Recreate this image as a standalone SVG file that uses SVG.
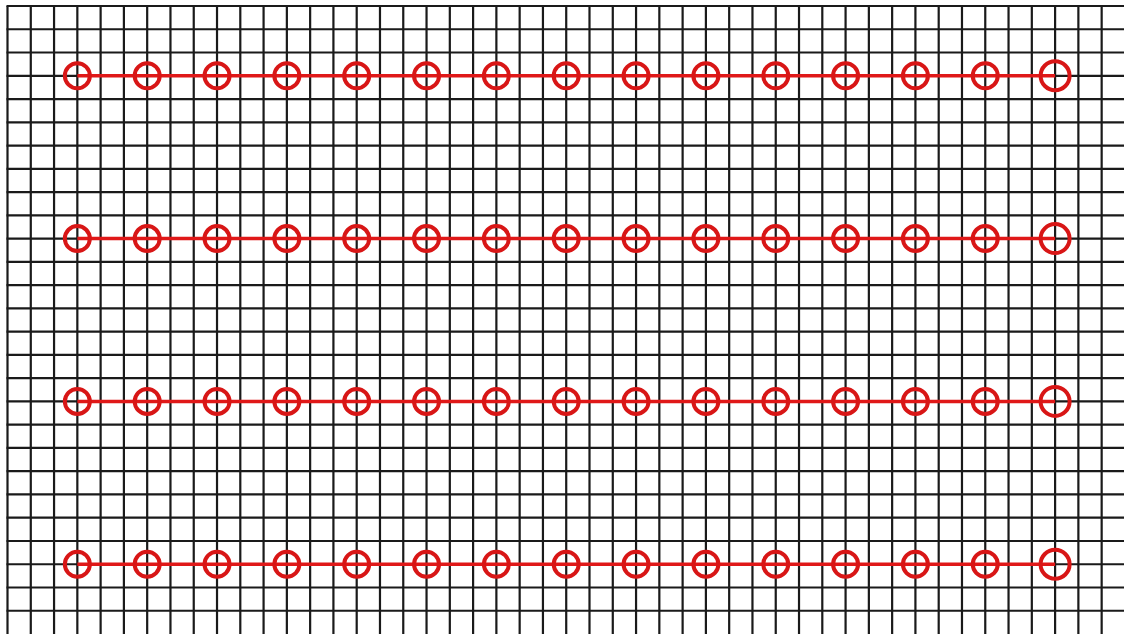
<svg xmlns="http://www.w3.org/2000/svg" width="1124" height="634" viewBox="0 0 1124 634">
<style>
.g{stroke:#1a1a1a;stroke-width:2.2;fill:none}
.c{stroke:#e01818;stroke-width:3.5;fill:none}
.n{stroke:#d81616;stroke-width:4;fill:none}
</style>
<rect width="1124" height="634" fill="#ffffff"/>
<g id="grid" class="g">
<path d="M7.5 6V634M30.78 6V634M54.06 6V634M77.34 6V634M100.62 6V634M123.9 6V634M147.18 6V634M170.46 6V634M193.74 6V634M217.02 6V634M240.3 6V634M263.58 6V634M286.86 6V634M310.14 6V634M333.42 6V634M356.7 6V634M379.98 6V634M403.26 6V634M426.54 6V634M449.82 6V634M473.1 6V634M496.38 6V634M519.66 6V634M542.94 6V634M566.22 6V634M589.5 6V634M612.78 6V634M636.06 6V634M659.34 6V634M682.62 6V634M705.9 6V634M729.18 6V634M752.46 6V634M775.74 6V634M799.02 6V634M822.3 6V634M845.58 6V634M868.86 6V634M892.14 6V634M915.42 6V634M938.7 6V634M961.98 6V634M985.26 6V634M1008.54 6V634M1031.82 6V634M1055.1 6V634M1078.38 6V634M1101.66 6V634"/>
<path d="M6.5 6H1124M6.5 29.26H1124M6.5 52.52H1124M6.5 75.78H1124M6.5 99.04H1124M6.5 122.3H1124M6.5 145.56H1124M6.5 168.82H1124M6.5 192.08H1124M6.5 215.34H1124M6.5 238.6H1124M6.5 261.86H1124M6.5 285.12H1124M6.5 308.38H1124M6.5 331.64H1124M6.5 354.9H1124M6.5 378.16H1124M6.5 401.42H1124M6.5 424.68H1124M6.5 447.94H1124M6.5 471.2H1124M6.5 494.46H1124M6.5 517.72H1124M6.5 540.98H1124M6.5 564.24H1124M6.5 587.5H1124M6.5 610.76H1124"/>
</g>
<g id="connectors" class="c">
<path d="M77.34 75.78H1055.1"/>
<path d="M77.34 238.6H1055.1"/>
<path d="M77.34 401.42H1055.1"/>
<path d="M77.34 564.24H1055.1"/>
</g>
<g id="row1" class="n">
<g id="n1-1"><circle cx="77.34" cy="75.78" r="12.5"/></g>
<g id="n1-2"><circle cx="147.18" cy="75.78" r="12.5"/></g>
<g id="n1-3"><circle cx="217.02" cy="75.78" r="12.5"/></g>
<g id="n1-4"><circle cx="286.86" cy="75.78" r="12.5"/></g>
<g id="n1-5"><circle cx="356.7" cy="75.78" r="12.5"/></g>
<g id="n1-6"><circle cx="426.54" cy="75.78" r="12.5"/></g>
<g id="n1-7"><circle cx="496.38" cy="75.78" r="12.5"/></g>
<g id="n1-8"><circle cx="566.22" cy="75.78" r="12.5"/></g>
<g id="n1-9"><circle cx="636.06" cy="75.78" r="12.5"/></g>
<g id="n1-10"><circle cx="705.9" cy="75.78" r="12.5"/></g>
<g id="n1-11"><circle cx="775.74" cy="75.78" r="12.5"/></g>
<g id="n1-12"><circle cx="845.58" cy="75.78" r="12.5"/></g>
<g id="n1-13"><circle cx="915.42" cy="75.78" r="12.5"/></g>
<g id="n1-14"><circle cx="985.26" cy="75.78" r="12.5"/></g>
<g id="n1-15"><circle cx="1055.1" cy="75.78" r="14.5"/></g>
</g>
<g id="row2" class="n">
<g id="n2-1"><circle cx="77.34" cy="238.6" r="12.5"/></g>
<g id="n2-2"><circle cx="147.18" cy="238.6" r="12.5"/></g>
<g id="n2-3"><circle cx="217.02" cy="238.6" r="12.5"/></g>
<g id="n2-4"><circle cx="286.86" cy="238.6" r="12.5"/></g>
<g id="n2-5"><circle cx="356.7" cy="238.6" r="12.5"/></g>
<g id="n2-6"><circle cx="426.54" cy="238.6" r="12.5"/></g>
<g id="n2-7"><circle cx="496.38" cy="238.6" r="12.5"/></g>
<g id="n2-8"><circle cx="566.22" cy="238.6" r="12.5"/></g>
<g id="n2-9"><circle cx="636.06" cy="238.6" r="12.5"/></g>
<g id="n2-10"><circle cx="705.9" cy="238.6" r="12.5"/></g>
<g id="n2-11"><circle cx="775.74" cy="238.6" r="12.5"/></g>
<g id="n2-12"><circle cx="845.58" cy="238.6" r="12.5"/></g>
<g id="n2-13"><circle cx="915.42" cy="238.6" r="12.5"/></g>
<g id="n2-14"><circle cx="985.26" cy="238.6" r="12.5"/></g>
<g id="n2-15"><circle cx="1055.1" cy="238.6" r="14.5"/></g>
</g>
<g id="row3" class="n">
<g id="n3-1"><circle cx="77.34" cy="401.42" r="12.5"/></g>
<g id="n3-2"><circle cx="147.18" cy="401.42" r="12.5"/></g>
<g id="n3-3"><circle cx="217.02" cy="401.42" r="12.5"/></g>
<g id="n3-4"><circle cx="286.86" cy="401.42" r="12.5"/></g>
<g id="n3-5"><circle cx="356.7" cy="401.42" r="12.5"/></g>
<g id="n3-6"><circle cx="426.54" cy="401.42" r="12.5"/></g>
<g id="n3-7"><circle cx="496.38" cy="401.42" r="12.5"/></g>
<g id="n3-8"><circle cx="566.22" cy="401.42" r="12.5"/></g>
<g id="n3-9"><circle cx="636.06" cy="401.42" r="12.5"/></g>
<g id="n3-10"><circle cx="705.9" cy="401.42" r="12.5"/></g>
<g id="n3-11"><circle cx="775.74" cy="401.42" r="12.5"/></g>
<g id="n3-12"><circle cx="845.58" cy="401.42" r="12.5"/></g>
<g id="n3-13"><circle cx="915.42" cy="401.42" r="12.5"/></g>
<g id="n3-14"><circle cx="985.26" cy="401.42" r="12.5"/></g>
<g id="n3-15"><circle cx="1055.1" cy="401.42" r="14.5"/></g>
</g>
<g id="row4" class="n">
<g id="n4-1"><circle cx="77.34" cy="564.24" r="12.5"/></g>
<g id="n4-2"><circle cx="147.18" cy="564.24" r="12.5"/></g>
<g id="n4-3"><circle cx="217.02" cy="564.24" r="12.5"/></g>
<g id="n4-4"><circle cx="286.86" cy="564.24" r="12.5"/></g>
<g id="n4-5"><circle cx="356.7" cy="564.24" r="12.5"/></g>
<g id="n4-6"><circle cx="426.54" cy="564.24" r="12.5"/></g>
<g id="n4-7"><circle cx="496.38" cy="564.24" r="12.5"/></g>
<g id="n4-8"><circle cx="566.22" cy="564.24" r="12.5"/></g>
<g id="n4-9"><circle cx="636.06" cy="564.24" r="12.5"/></g>
<g id="n4-10"><circle cx="705.9" cy="564.24" r="12.5"/></g>
<g id="n4-11"><circle cx="775.74" cy="564.24" r="12.5"/></g>
<g id="n4-12"><circle cx="845.58" cy="564.24" r="12.5"/></g>
<g id="n4-13"><circle cx="915.42" cy="564.24" r="12.5"/></g>
<g id="n4-14"><circle cx="985.26" cy="564.24" r="12.5"/></g>
<g id="n4-15"><circle cx="1055.1" cy="564.24" r="14.5"/></g>
</g>
</svg>
